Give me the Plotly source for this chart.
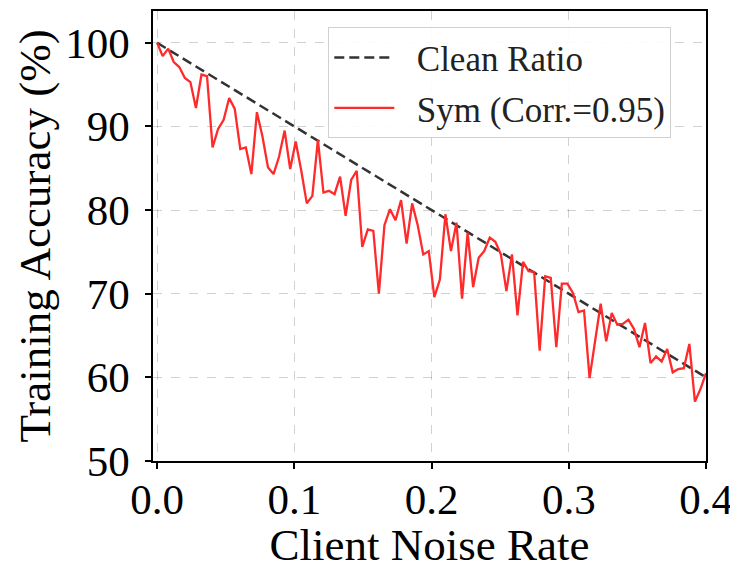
import numpy as np
import plotly.graph_objects as go

# Client noise rate grid (100 evaluated clients between 0.0 and 0.4)
noise_rate = np.linspace(0.0, 0.4, 100)

sym_accuracy = [
    100.0, 98.4, 99.3, 97.7, 97.1, 95.8, 95.3, 92.2, 96.2, 96.0,
    87.5, 89.7, 90.8, 93.4, 92.1, 87.3, 87.5, 84.3, 91.7, 88.8,
    85.1, 84.3, 86.4, 89.5, 84.9, 88.2, 84.7, 80.8, 81.7, 88.4,
    82.1, 82.3, 81.9, 84.0, 79.3, 83.6, 84.7, 75.6, 77.7, 77.5,
    70.0, 78.2, 80.1, 78.8, 81.2, 76.0, 80.8, 78.2, 74.7, 75.1,
    69.6, 71.7, 79.5, 75.1, 78.5, 69.4, 77.3, 70.8, 74.3, 75.1,
    76.7, 76.2, 74.7, 70.3, 74.7, 67.4, 73.8, 72.7, 72.6, 63.2,
    72.1, 71.9, 63.6, 71.2, 71.2, 70.1, 67.8, 68.0, 59.9, 64.3,
    68.8, 64.3, 67.7, 66.3, 66.4, 66.9, 65.8, 63.6, 66.5, 61.7,
    62.5, 61.9, 63.4, 60.6, 61.0, 61.1, 64.0, 57.1, 58.6, 60.5,
]

clean_x = [0.0, 0.4]
clean_y = [100.0, 60.0]

x_ticks = [0.0, 0.1, 0.2, 0.3, 0.4]
x_tick_labels = ["0.0", "0.1", "0.2", "0.3", "0.4"]
y_ticks = [50, 60, 70, 80, 90, 100]

FONT = "Liberation Serif"
NB = "\u00a0\u00a0"

fig = go.Figure()
fig.add_trace(go.Scatter(
    x=clean_x, y=clean_y, mode="lines", name=NB + "Clean Ratio",
    line=dict(color="#333333", width=2.5, dash="10px,5px"),
    legendgroup="a",
))
fig.add_trace(go.Scatter(
    x=noise_rate, y=sym_accuracy, mode="lines", name=NB + "Sym (Corr.=0.95)",
    line=dict(color="#ff2a2a", width=2.3),
    legendgroup="b",
))

axis_common = dict(
    showline=True, linecolor="black", linewidth=1.5, mirror=True,
    ticks="outside", ticklen=6, tickwidth=1.5, tickcolor="black",
    showgrid=True, gridcolor="rgba(0,0,0,0.18)", griddash="dash", gridwidth=1,
    zeroline=False, automargin=False,
    tickfont=dict(family=FONT, size=43, color="black"),
)

fig.update_xaxes(
    range=[-0.003, 0.4], tickvals=x_ticks, ticktext=x_tick_labels,
    ticklabelstandoff=-6,
    title=dict(text="Client Noise Rate", font=dict(family=FONT, size=45, color="black"), standoff=8),
    **axis_common,
)
fig.update_yaxes(
    range=[50, 103.8], tickvals=y_ticks,
    ticklabelstandoff=7,
    title=dict(text="Training Accuracy (%)", font=dict(family=FONT, size=45, color="black"), standoff=0),
    **axis_common,
)

# The page body has an 8px default margin, so the figure is sized to fit the window.
fig.update_layout(
    width=730, height=562,
    margin=dict(l=144.5, r=32, t=3, b=109),
    paper_bgcolor="white", plot_bgcolor="white",
    showlegend=True,
    legend=dict(
        x=0.317, y=0.964, xanchor="left", yanchor="top",
        bgcolor="rgba(255,255,255,0.9)", bordercolor="#d0d0d0", borderwidth=1,
        font=dict(family=FONT, size=35, color="#222"),
        tracegroupgap=2, itemwidth=60,
    ),
)

fig.write_html("out.html")
